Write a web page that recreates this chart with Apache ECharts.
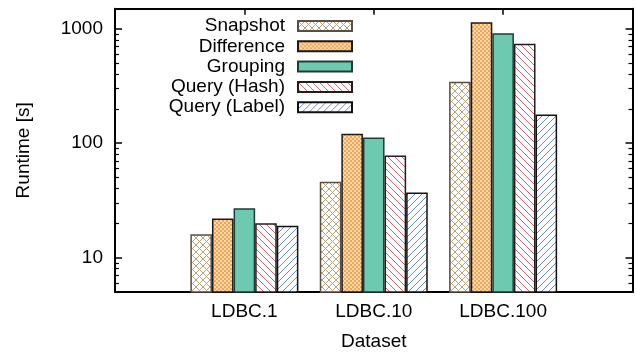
<!DOCTYPE html>
<html>
<head>
<meta charset="utf-8">
<script src="https://cdn.jsdelivr.net/npm/echarts@6/dist/echarts.min.js"></script>
<style>
html,body{margin:0;padding:0;background:#fff;}
#chart{width:636px;height:356px;}
</style>
</head>
<body>
<div id="chart"></div>
<script>
// ---- data ----
const categories = ['LDBC.1', 'LDBC.10', 'LDBC.100'];
const seriesNames = ['Snapshot', 'Difference', 'Grouping', 'Query (Hash)', 'Query (Label)'];
const snapshot   = [16, 46, 345];
const difference = [22, 121, 1140];
const grouping   = [27, 112, 915];
const queryHash  = [20, 78, 740];
const queryLabel = [19, 37, 178];
const yMajorTicks = [10, 100, 1000];
const yMinorTicks = [6, 7, 8, 9, 20, 30, 40, 50, 60, 70, 80, 90, 200, 300, 400, 500, 600, 700, 800, 900];
const xTickPositions = [0, 1, 2];

// ---- fill textures ----
function tile(size, draw) {
  const c = document.createElement('canvas');
  c.width = size; c.height = size;
  const ctx = c.getContext('2d');
  draw(ctx, size);
  return { image: c, repeat: 'repeat' };
}
function back(ctx, p) {
  ctx.beginPath();
  ctx.moveTo(0, 0); ctx.lineTo(p, p);
  ctx.moveTo(-1, p - 1); ctx.lineTo(1, p + 1);
  ctx.moveTo(p - 1, -1); ctx.lineTo(p + 1, 1);
  ctx.stroke();
}
function fwd(ctx, p) {
  ctx.beginPath();
  ctx.moveTo(0, p); ctx.lineTo(p, 0);
  ctx.moveTo(-1, 1); ctx.lineTo(1, -1);
  ctx.moveTo(p - 1, p + 1); ctx.lineTo(p + 1, p - 1);
  ctx.stroke();
}
const fillSnapshot = tile(7, (ctx, p) => {
  ctx.fillStyle = '#ffffff'; ctx.fillRect(0, 0, p, p);
  ctx.strokeStyle = '#b9a17b'; ctx.lineWidth = 1;
  back(ctx, p); fwd(ctx, p);
});
const fillDifference = tile(4, (ctx, p) => {
  ctx.fillStyle = '#f5a650'; ctx.fillRect(0, 0, p, p);
  ctx.fillStyle = '#fff6ea';
  ctx.fillRect(0.2, 0.2, 1.6, 1.6);
  ctx.fillRect(2.2, 2.2, 1.6, 1.6);
});
const fillGrouping = '#6dcab0';
const fillHash = tile(7, (ctx, p) => {
  ctx.fillStyle = '#ffffff'; ctx.fillRect(0, 0, p, p);
  ctx.strokeStyle = '#d4606f'; ctx.lineWidth = 1;
  back(ctx, p);
});
const fillLabel = tile(7, (ctx, p) => {
  ctx.fillStyle = '#ffffff'; ctx.fillRect(0, 0, p, p);
  ctx.strokeStyle = '#6a8cc2'; ctx.lineWidth = 1;
  fwd(ctx, p);
});

const values = [snapshot, difference, grouping, queryHash, queryLabel];
const fills = [fillSnapshot, fillDifference, fillGrouping, fillHash, fillLabel];
const borders = ['#5a4f40', '#1a1a1a', '#1f3d35', '#2a1a1a', '#111111'];

const FONT = "'Liberation Sans', Arial, Helvetica, sans-serif";
const FS = 19;

const chart = echarts.init(document.getElementById('chart'), null, { renderer: 'canvas' });

const yBase = { type: 'log', min: 5, max: 1500, logBase: 10, splitLine: { show: false } };
const mainLine = { show: true, onZero: false, lineStyle: { color: '#000', width: 2 } };
const noLine = { show: false, onZero: false };

const option = {
  animation: false,
  textStyle: { fontFamily: FONT, color: '#000' },
  grid: { left: 115, right: 3.5, top: 8.7, bottom: 63.3, containLabel: false },
  legend: {
    orient: 'vertical',
    align: 'right',
    right: 283,
    top: 16.5,
    padding: 0,
    itemGap: 1.3,
    itemWidth: 54,
    itemHeight: 10,
    icon: 'rect',
    selectedMode: false,
    textStyle: { fontSize: FS, fontFamily: FONT, color: '#000', padding: [0, 8, 0, 0], lineHeight: 19 },
    data: seriesNames
  },
  xAxis: [
    {
      type: 'value', min: -1, max: 3, interval: 1, position: 'bottom',
      splitLine: { show: false },
      axisLine: mainLine,
      axisTick: { show: true, inside: true, length: 6, customValues: xTickPositions, lineStyle: { color: '#000', width: 1.5 } },
      axisLabel: { show: true, customValues: xTickPositions, margin: 10, fontSize: FS, fontFamily: FONT, color: '#000',
        formatter: v => categories[Math.round(v)] || '' },
      name: 'Dataset', nameLocation: 'middle', nameGap: 40,
      nameTextStyle: { fontSize: FS, fontFamily: FONT, color: '#000' }
    },
    {
      type: 'value', min: -1, max: 3, interval: 1, position: 'top',
      splitLine: { show: false },
      axisLine: mainLine,
      axisTick: { show: true, inside: true, length: 6, customValues: xTickPositions, lineStyle: { color: '#000', width: 1.5 } },
      axisLabel: { show: false }
    }
  ],
  yAxis: [
    Object.assign({}, yBase, {
      position: 'left',
      axisLine: mainLine,
      axisTick: { show: true, inside: true, length: 7, customValues: yMajorTicks, lineStyle: { color: '#000', width: 1.5 } },
      axisLabel: { show: true, customValues: yMajorTicks, margin: 12, fontSize: FS, fontFamily: FONT, color: '#000',
        formatter: v => String(Math.round(v)) },
      name: 'Runtime [s]', nameLocation: 'middle', nameGap: 82, nameRotate: 90,
      nameTextStyle: { fontSize: FS, fontFamily: FONT, color: '#000' }
    }),
    Object.assign({}, yBase, {
      position: 'left',
      axisLine: noLine,
      axisTick: { show: true, inside: true, length: 4, customValues: yMinorTicks, lineStyle: { color: '#000', width: 1.2 } },
      axisLabel: { show: false }
    }),
    Object.assign({}, yBase, {
      position: 'right',
      axisLine: mainLine,
      axisTick: { show: true, inside: true, length: 7, customValues: yMajorTicks, lineStyle: { color: '#000', width: 1.5 } },
      axisLabel: { show: false }
    }),
    Object.assign({}, yBase, {
      position: 'right',
      axisLine: noLine,
      axisTick: { show: true, inside: true, length: 4, customValues: yMinorTicks, lineStyle: { color: '#000', width: 1.2 } },
      axisLabel: { show: false }
    })
  ],
  series: seriesNames.map((name, i) => ({
    name: name,
    type: 'bar',
    xAxisIndex: 0,
    yAxisIndex: 0,
    barWidth: 21.6,
    barGap: '0%',
    clip: true,
    itemStyle: { color: fills[i], borderColor: borders[i], borderWidth: 1.5 },
    emphasis: { disabled: true },
    data: values[i].map((v, j) => [j, v])
  }))
};

chart.setOption(option);
</script>
</body>
</html>
